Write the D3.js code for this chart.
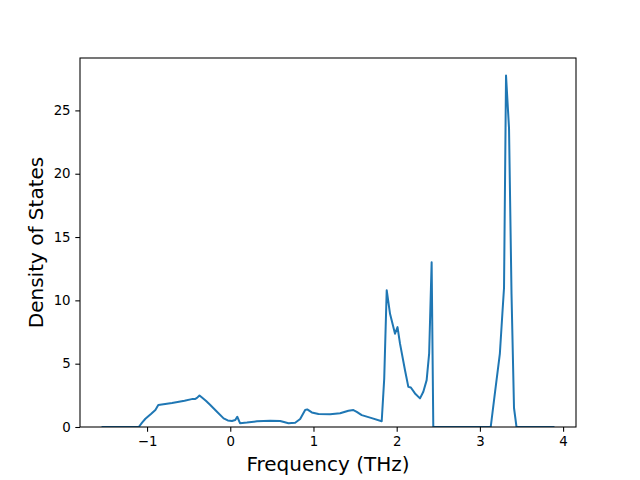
<!DOCTYPE html>
<html>
<head>
<meta charset="utf-8">
<script src="https://cdn.jsdelivr.net/npm/d3@7"></script>
<style>
  body { margin: 0; background: #fff; }
  text { font-family: "DejaVu Sans", sans-serif; fill: #000; }
</style>
</head>
<body>
<script>
// phonon density of states
var freq = [-1.535, -1.10, -1.06, -1.02, -0.95, -0.90, -0.865, -0.70, -0.55, -0.45, -0.42, -0.40, -0.37,
            -0.34, -0.29, -0.24, -0.16, -0.08, -0.03, 0.02, 0.06, 0.084, 0.117, 0.20, 0.32, 0.48, 0.60,
            0.70, 0.78, 0.84, 0.90, 0.925, 0.98, 1.06, 1.20, 1.32, 1.42, 1.48, 1.52, 1.58, 1.70, 1.82,
            1.85, 1.88, 1.92, 1.98, 2.01, 2.04, 2.10, 2.14, 2.17, 2.22, 2.28, 2.32, 2.36, 2.39, 2.42,
            2.44, 3.13, 3.18, 3.24, 3.27, 3.29, 3.314, 3.35, 3.38, 3.41, 3.44, 3.884];
var dos  = [0, 0, 0.35, 0.65, 1.05, 1.35, 1.73, 1.90, 2.08, 2.22, 2.22, 2.30, 2.49,
            2.33, 2.05, 1.73, 1.20, 0.68, 0.52, 0.47, 0.55, 0.81, 0.30, 0.35, 0.45, 0.50, 0.47,
            0.30, 0.34, 0.63, 1.34, 1.39, 1.15, 1.02, 1.00, 1.08, 1.28, 1.34, 1.20, 0.94, 0.70, 0.45,
            3.8, 10.8, 8.94, 7.37, 7.89, 6.58, 4.48, 3.17, 3.12, 2.65, 2.26, 2.78, 3.7, 5.8, 13.0,
            0, 0, 2.65, 5.8, 8.94, 11.0, 27.75, 23.6, 10.5, 1.5, 0, 0];
var xTicks = [-1, 0, 1, 2, 3, 4];
var yTicks = [0, 5, 10, 15, 20, 25];

var w = 640, h = 480;
var mLeft = 80, mRight = 576, mTop = 58, mBottom = 427;

var svg = d3.select("body").append("svg")
    .attr("width", w)
    .attr("height", h);

var pts = freq.map(function(f, i) { return [f, dos[i]]; });

// matplotlib-ish 5% margins on x, 0 at bottom of y
var xr = d3.extent(freq), pad = (xr[1] - xr[0]) * 0.05;
var x = d3.scaleLinear().domain([xr[0] - pad, xr[1] + pad]).range([mLeft, mRight]);
var y = d3.scaleLinear().domain([0, d3.max(dos) * 1.05]).range([mBottom, mTop]);

var fmt = function(d) { return String(d).replace("-", "\u2212"); };

svg.append("clipPath").attr("id", "clip")
  .append("rect")
    .attr("x", mLeft).attr("y", mTop)
    .attr("width", mRight - mLeft).attr("height", mBottom - mTop);

svg.append("path")
    .datum(pts)
    .attr("clip-path", "url(#clip)")
    .attr("fill", "none")
    .attr("stroke", "#1f77b4")
    .attr("stroke-width", 2)
    .attr("stroke-linejoin", "round")
    .attr("stroke-linecap", "square")
    .attr("d", d3.line().x(function(d) { return x(d[0]); }).y(function(d) { return y(d[1]); }));

var xAxis = svg.append("g")
    .attr("transform", "translate(0," + mBottom + ")")
    .call(d3.axisBottom(x).tickValues(xTicks).tickFormat(fmt).tickSize(4.7).tickPadding(4.7));

var yAxis = svg.append("g")
    .attr("transform", "translate(" + mLeft + ",0)")
    .call(d3.axisLeft(y).tickValues(yTicks).tickFormat(fmt).tickSize(4.7).tickPadding(4.7));

[xAxis, yAxis].forEach(function(g) {
  g.select(".domain").remove();
  g.selectAll("line").attr("stroke", "#000").attr("stroke-width", 1.07);
  g.selectAll("text").attr("font-size", "13.33px").attr("font-family", "DejaVu Sans").attr("fill", "#000");
});

// frame
svg.append("rect")
    .attr("x", mLeft).attr("y", mTop)
    .attr("width", mRight - mLeft).attr("height", mBottom - mTop)
    .attr("fill", "none")
    .attr("stroke", "#000")
    .attr("stroke-width", 1.07);

svg.append("text")
    .attr("x", (mLeft + mRight) / 2)
    .attr("y", 471)
    .attr("text-anchor", "middle")
    .attr("font-size", "20px")
    .text("Frequency (THz)");

svg.append("text")
    .attr("transform", "translate(43," + (mTop + mBottom) / 2 + ") rotate(-90)")
    .attr("text-anchor", "middle")
    .attr("font-size", "20px")
    .text("Density of States");
</script>
</body>
</html>
